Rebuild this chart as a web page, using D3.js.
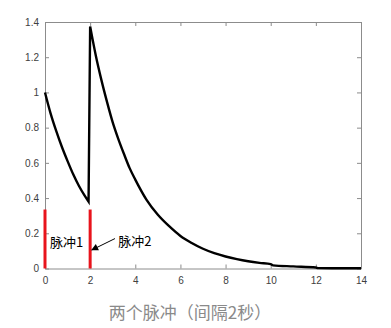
<!DOCTYPE html>
<html>
<head>
<meta charset="utf-8">
<script src="https://cdn.jsdelivr.net/npm/d3@7"></script>
<style>
  html, body { margin: 0; padding: 0; background: #fff; }
  svg { display: block; }
</style>
</head>
<body>
<svg id="chart" width="391" height="328"></svg>
<script>
// Response after the first pulse (t = 0 .. just before 2 s)
const pulse1T = [0, 0.25, 0.5, 0.75, 1, 1.25, 1.5, 1.75, 1.93];
const pulse1Y = [1.0, 0.88, 0.78, 0.69, 0.61, 0.535, 0.47, 0.415, 0.38];
// Response after the second pulse (t = 2 .. 14 s)
const pulse2T = [2.0, 2.25, 2.5, 2.75, 3, 3.25, 3.5, 3.75, 4, 4.5, 5, 5.5, 6, 6.5, 7, 7.5, 8, 8.5, 9, 9.5, 10, 10.1, 11, 12, 12.1, 13, 14];
const pulse2Y = [1.375, 1.21, 1.07, 0.945, 0.83, 0.735, 0.65, 0.57, 0.505, 0.39, 0.305, 0.24, 0.185, 0.145, 0.112, 0.087, 0.068, 0.053, 0.041, 0.032, 0.025, 0.018, 0.012, 0.006, 0.002, 0.001, 0.001];
// Pulse markers
const pulseTimes = [0, 2];
const pulseHeight = 0.335;
const pulseLabels = ["脉冲1", "脉冲2"];
// Axis ticks
const xTicks = [0, 2, 4, 6, 8, 10, 12, 14];
const yTicks = [0, 0.2, 0.4, 0.6, 0.8, 1, 1.2, 1.4];
const title = "两个脉冲（间隔2秒）";

const svg = d3.select("#chart");
const plotLeft = 45, plotRight = 361, plotTop = 22, plotBottom = 268.5;

const x = d3.scaleLinear().domain([0, 14]).range([plotLeft, plotRight]);
const y = d3.scaleLinear().domain([0, 1.4]).range([plotBottom, plotTop]);

const axisColor = "#8c8c8c";
const labelColor = "#404040";
const tickFont = "'Liberation Sans', Arial, sans-serif";
const cjkFont = "'Noto Sans CJK SC', sans-serif";

function styleAxis(g, showLabels) {
  g.select(".domain").attr("stroke", axisColor).attr("stroke-width", 1);
  g.selectAll(".tick line").attr("stroke", axisColor);
  g.selectAll(".tick text")
    .attr("fill", labelColor)
    .style("font-family", tickFont)
    .style("font-size", "10px");
  if (!showLabels) g.selectAll(".tick text").remove();
}

// Bottom and left axes with inward ticks
svg.append("g")
  .attr("transform", `translate(0,${plotBottom})`)
  .call(d3.axisBottom(x).tickValues(xTicks).tickSizeInner(-4).tickSizeOuter(0).tickPadding(8).tickFormat(d3.format("d")))
  .call(g => styleAxis(g, true));

svg.append("g")
  .attr("transform", `translate(${plotLeft},0)`)
  .call(d3.axisLeft(y).tickValues(yTicks).tickSizeInner(-4).tickSizeOuter(0).tickPadding(6).tickFormat(d => d3.format("~g")(d)))
  .call(g => styleAxis(g, true));

// Top and right box edges
svg.append("g")
  .attr("transform", `translate(0,${plotTop})`)
  .call(d3.axisTop(x).tickValues(xTicks).tickSizeInner(-4).tickSizeOuter(0))
  .call(g => styleAxis(g, false));

svg.append("g")
  .attr("transform", `translate(${plotRight},0)`)
  .call(d3.axisRight(y).tickValues(yTicks).tickSizeInner(-4).tickSizeOuter(0))
  .call(g => styleAxis(g, false));

// Red pulse markers
svg.selectAll("line.pulse")
  .data(pulseTimes)
  .join("line")
  .attr("class", "pulse")
  .attr("x1", d => x(d)).attr("x2", d => x(d))
  .attr("y1", y(0)).attr("y2", y(pulseHeight))
  .attr("stroke", "#e8141c")
  .attr("stroke-width", 3);

// Response curve: two smooth decays joined by a straight rise at the second pulse
const seg1 = pulse1T.map((t, i) => [t, pulse1Y[i]]);
const seg2 = pulse2T.map((t, i) => [t, pulse2Y[i]]);
const rise = [seg1[seg1.length - 1], seg2[0]];

const smooth = d3.line().x(d => x(d[0])).y(d => y(d[1])).curve(d3.curveMonotoneX);
const straight = d3.line().x(d => x(d[0])).y(d => y(d[1]));

const curve = svg.append("path")
  .attr("d", smooth(seg1) + straight(rise).replace(/^M/, "L") + smooth(seg2).replace(/^M/, "L"))
  .attr("fill", "none")
  .attr("stroke", "#000")
  .attr("stroke-width", 2.4)
  .attr("stroke-linejoin", "miter")
  .attr("stroke-miterlimit", 10);

// Pulse labels
svg.append("text")
  .attr("x", x(0) + 5).attr("y", y(0.15))
  .attr("dy", "0.35em")
  .style("font-family", cjkFont).style("font-size", "13px")
  .attr("fill", "#000")
  .text(pulseLabels[0]);

svg.append("text")
  .attr("x", x(3.25)).attr("y", y(0.155))
  .attr("dy", "0.35em")
  .style("font-family", cjkFont).style("font-size", "13px")
  .attr("fill", "#000")
  .text(pulseLabels[1]);

// Arrow pointing to the second pulse
svg.append("defs").append("marker")
  .attr("id", "arrowhead")
  .attr("viewBox", "0 0 10 10")
  .attr("refX", 9).attr("refY", 5)
  .attr("markerWidth", 9).attr("markerHeight", 7)
  .attr("markerUnits", "userSpaceOnUse")
  .attr("orient", "auto")
  .append("path")
  .attr("d", "M0,0 L10,5 L0,10 Z")
  .attr("fill", "#000");

svg.append("line")
  .attr("x1", x(3.1)).attr("y1", y(0.17))
  .attr("x2", x(2.07)).attr("y2", y(0.105))
  .attr("stroke", "#000")
  .attr("stroke-width", 1)
  .attr("marker-end", "url(#arrowhead)");

// Caption below the chart
svg.append("text")
  .attr("x", 190).attr("y", 319)
  .attr("text-anchor", "middle")
  .style("font-family", cjkFont).style("font-size", "17px")
  .attr("fill", "#8a8a8a")
  .text(title);
</script>
</body>
</html>
